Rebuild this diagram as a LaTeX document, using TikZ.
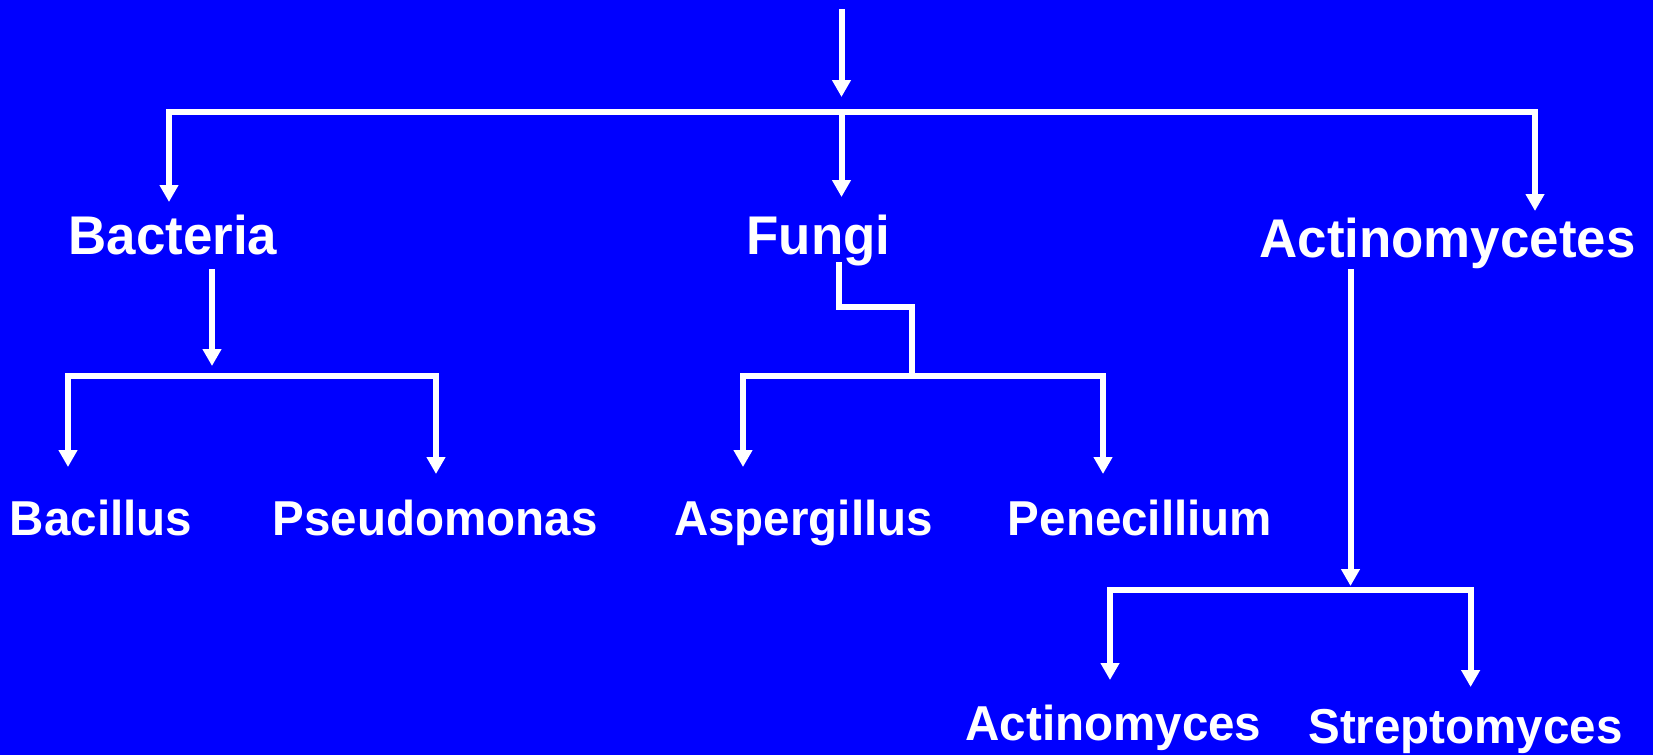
\documentclass[tikz,border=0pt]{standalone}
\usepackage{fontspec}
\setmainfont{Liberation Sans}[FakeStretch=0.97]
\usetikzlibrary{arrows.meta}
\definecolor{bgblue}{RGB}{0,0,255}
\begin{document}
\begin{tikzpicture}[x=1pt,y=-1pt,
  conn/.style={draw=white, line width=6pt, line join=miter},
  arr/.style={conn, -{Triangle[length=17pt,width=18pt]}},
  big/.style={text=white, font=\fontsize{54.5}{60}\selectfont\bfseries, inner sep=0pt, anchor=base},
  small/.style={text=white, font=\fontsize{49}{55}\selectfont\bfseries, inner sep=0pt, anchor=base}]
\fill[bgblue] (0,0) rectangle (1653,755);
\useasboundingbox (0,0) rectangle (1653,755);

% text nodes
\node[big] (bac) at (173,254) {Bacteria};
\node[big] (fun) at (818.5,254) {Fungi};
\node[big] (act) at (1447.5,257) {Actinomycetes};
\node[small] (bcl) at (101,535) {Bacillus};
\node[small] (pse) at (435,535) {Pseudomonas};
\node[small] (asp) at (803.5,535) {Aspergillus};
\node[small] (pen) at (1140,535) {Penecillium};
\node[small] (acm) at (1113.5,740) {Actinomyces};
\node[small] (str) at (1465.5,743) {Streptomyces};

% coordinates
\coordinate (top) at (841.5,9);
\coordinate (topTip) at (841.5,97);
\coordinate (bar) at (841.5,112);
\coordinate (bacTip) at (169,202);
\coordinate (funTip) at (841.5,197);
\coordinate (actTip) at (1535,211);

\coordinate (bacStart) at (212,269);
\coordinate (bacMid) at (212,366);
\coordinate (bacJ) at (212,376);
\coordinate (bclTip) at (68,467);
\coordinate (pseTip) at (436,474);

\coordinate (funStart) at (839,262);
\coordinate (funJog) at (912,307);
\coordinate (funJ) at (912,376);
\coordinate (aspTip) at (743,467);
\coordinate (penTip) at (1103,474);

\coordinate (actStart) at (1350.5,269);
\coordinate (actMid) at (1350.5,586);
\coordinate (actJ) at (1350.5,590);
\coordinate (acmTip) at (1110,680);
\coordinate (strTip) at (1470.6,687);

% connectors
\draw[arr] (top) -- (topTip);
\draw[arr] (bar) -| (bacTip);
\draw[arr] (bar) -| (actTip);
\draw[arr] (bar) -- (funTip);

\draw[arr] (bacStart) -- (bacMid);
\draw[arr] (bacJ) -| (bclTip);
\draw[arr] (bacJ) -| (pseTip);

\draw[arr] (funStart) |- (funJog) -- (funJ) -| (aspTip);
\draw[arr] (funJ) -| (penTip);

\draw[arr] (actStart) -- (actMid);
\draw[arr] (actJ) -| (acmTip);
\draw[arr] (actJ) -| (strTip);
\end{tikzpicture}
\end{document}
